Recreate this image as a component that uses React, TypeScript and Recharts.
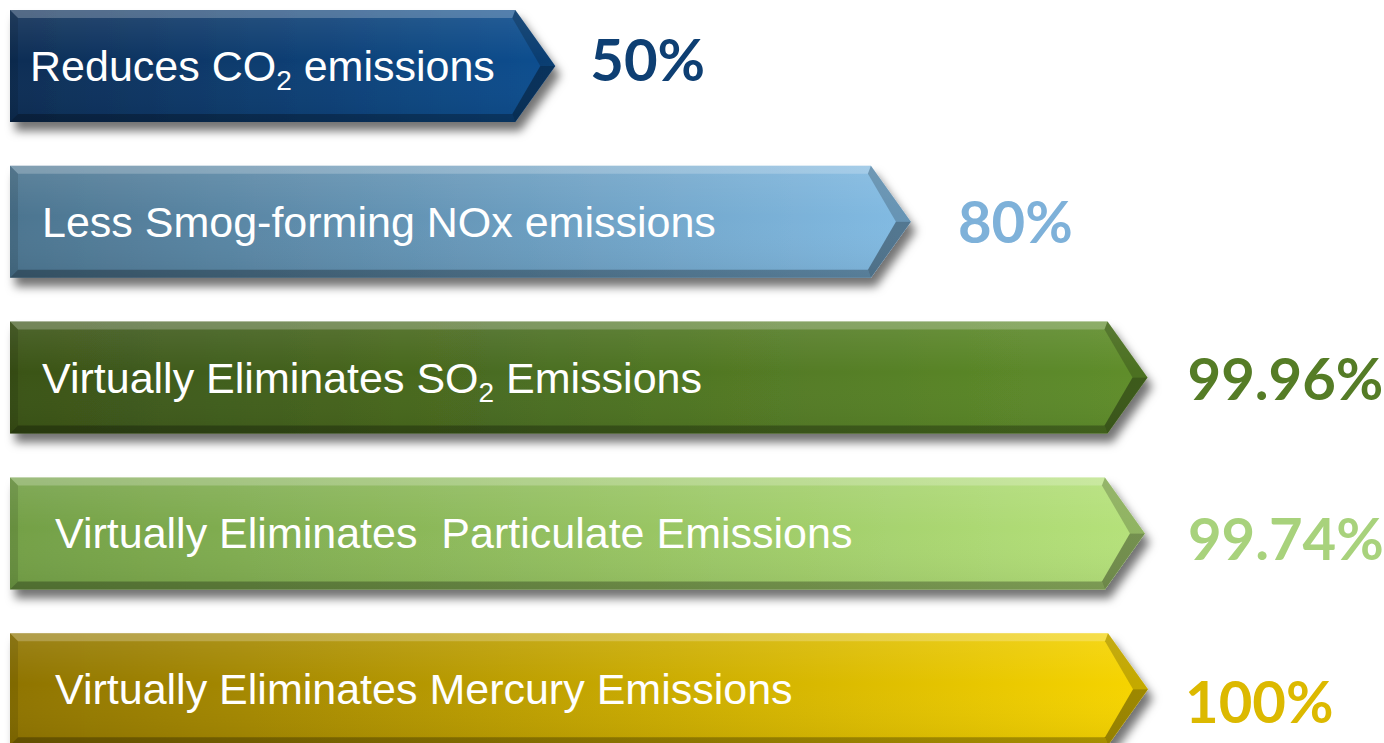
import { BarChart, Bar, XAxis, YAxis, LabelList } from 'recharts'

const categories = [
  'Reduces CO2 emissions',
  'Less Smog-forming NOx emissions',
  'Virtually Eliminates SO2 Emissions',
  'Virtually Eliminates  Particulate Emissions',
  'Virtually Eliminates Mercury Emissions',
]
const values = [50, 80, 99.96, 99.74, 100]
const valueLabels = ['50%', '80%', '99.96%', '99.74%', '100%']

// left -> right gradient stops, and the colour of the value text
const barFrom = ['#0a2d55', '#4c7590', '#3a5318', '#73a046', '#8f7405']
const barTo = ['#0e4f90', '#82bbe3', '#5f8e2b', '#b6e27b', '#f7d500']
const valueColors = ['#0e3f73', '#7eb1d9', '#557c26', '#a8d27c', '#dcb900']
const textInset = [20, 32, 32, 45, 45]
const valueShift = [-6, 0, 1, 6, 13]
const valueGap = [35, 47, 40, 43, 37]

const data = categories.map((name, i) => ({ name, value: values[i], label: valueLabels[i] }))

// "CO2" -> CO with a subscript 2
function renderName(name: string) {
  const parts = name.split(/(?<=[A-Z])(2)/)
  const out: any[] = []
  let afterSub = false
  parts.forEach((p, i) => {
    if (p === '2') {
      out.push(<tspan key={i} fontSize={28} dy={9}>2</tspan>)
      afterSub = true
    } else if (p) {
      out.push(<tspan key={i} dy={afterSub ? -9 : undefined}>{p}</tspan>)
      afterSub = false
    }
  })
  return out
}

function ArrowBar(props: any) {
  const { x, y, width, height, index } = props
  const d = 40
  const b = 8
  const r = x + width
  const body = r - d
  const cy = y + height / 2
  const bot = y + height
  const oTL = `${x},${y}`
  const oTR = `${body},${y}`
  const oTip = `${r},${cy}`
  const oBR = `${body},${bot}`
  const oBL = `${x},${bot}`
  const iTL = `${x + b},${y + b}`
  const iTR = `${body - 3},${y + b}`
  const iTip = `${r - 15},${cy}`
  const iBR = `${body - 3},${bot - b}`
  const iBL = `${x + b},${bot - b}`
  return (
    <g>
      <defs>
        <linearGradient id={`g${index}`} x1="0" y1="0" x2="1" y2="0">
          <stop offset="0%" stopColor={barFrom[index]} />
          <stop offset="100%" stopColor={barTo[index]} />
        </linearGradient>
        <linearGradient id={`gl${index}`} x1="0" y1="0" x2="0" y2="1">
          <stop offset="0%" stopColor="#fff" stopOpacity={0.1} />
          <stop offset="45%" stopColor="#fff" stopOpacity={0} />
          <stop offset="100%" stopColor="#000" stopOpacity={0.06} />
        </linearGradient>
        <filter id={`s${index}`} x="-5%" y="-20%" width="115%" height="150%">
          <feDropShadow dx={5} dy={9} stdDeviation={5} floodColor="#000" floodOpacity={0.55} />
        </filter>
      </defs>
      <polygon points={`${oTL} ${oTR} ${oTip} ${oBR} ${oBL}`} fill={`url(#g${index})`} filter={`url(#s${index})`} />
      <polygon points={`${oTL} ${oTR} ${oTip} ${oBR} ${oBL}`} fill={`url(#gl${index})`} />
      {/* bevel facets */}
      <polygon points={`${oTL} ${oTR} ${iTR} ${iTL}`} fill="#fff" fillOpacity={0.22} />
      <polygon points={`${oTL} ${iTL} ${iBL} ${oBL}`} fill="#000" fillOpacity={0.1} />
      <polygon points={`${oBL} ${iBL} ${iBR} ${oBR}`} fill="#000" fillOpacity={0.28} />
      <polygon points={`${oTR} ${oTip} ${iTip} ${iTR}`} fill="#000" fillOpacity={0.2} />
      <polygon points={`${oTip} ${oBR} ${iBR} ${iTip}`} fill="#000" fillOpacity={0.36} />
      <text
        x={x + textInset[index]}
        y={cy + 15}
        fill="#fff"
        fontSize={43}
        fontFamily="'Liberation Sans', Arial, sans-serif"
        style={{ whiteSpace: 'pre' }}
      >
        {renderName(categories[index])}
      </text>
    </g>
  )
}

function ValueLabel(props: any) {
  const { x, y, width, height, index, value } = props
  return (
    <text
      x={x + width + valueGap[index]}
      y={y + height / 2 + 21 + valueShift[index]}
      fill={valueColors[index]}
      fontSize={58}
      fontWeight={700}
      fontFamily="Lato, 'Open Sans', sans-serif"
    >
      {value}
    </text>
  )
}

export default function App() {
  return (
    <div style={{ position: 'absolute', left: 0, top: 0, width: 1384, height: 743, overflow: 'hidden', background: '#fff' }}>
      <div style={{ position: 'absolute', left: 0, top: -12 }}>
        <BarChart
          width={1384}
          height={779}
          data={data}
          layout="vertical"
          margin={{ top: 0, right: 236, left: 10, bottom: 0 }}
          barSize={112}
        >
          <XAxis type="number" domain={[4, 100]} hide />
          <YAxis type="category" dataKey="name" hide />
          <Bar dataKey="value" shape={<ArrowBar />} isAnimationActive={false}>
            <LabelList dataKey="label" content={<ValueLabel />} />
          </Bar>
        </BarChart>
      </div>
    </div>
  )
}
